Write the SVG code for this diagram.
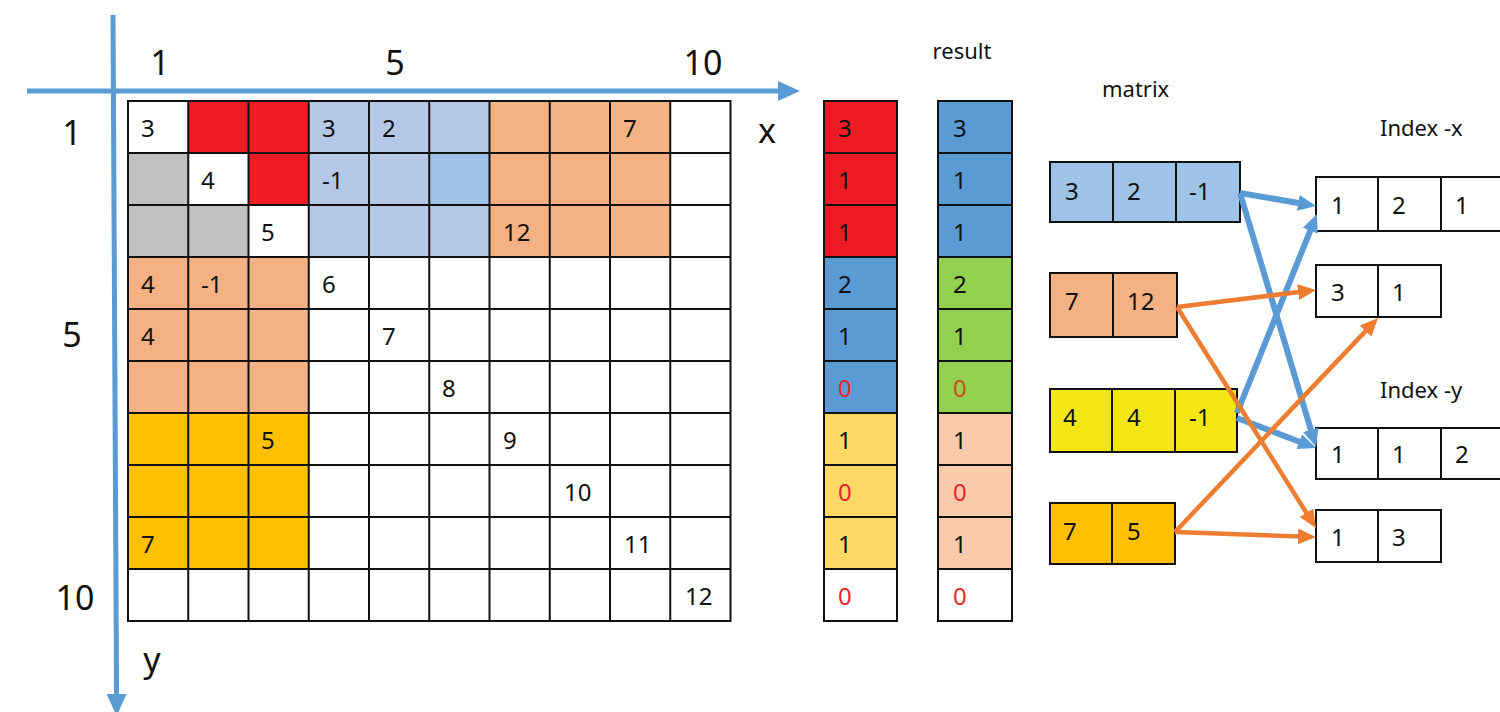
<svg xmlns="http://www.w3.org/2000/svg" width="1500" height="712" viewBox="0 0 1500 712">
<defs>
<style>
text{font-family:"Noto Sans","Open Sans","DejaVu Sans",sans-serif;fill:#111}
.g{font-size:24px}
.ax{font-size:34px}
.lb{font-size:22px}
.z{fill:#E8262A}
.zo{fill:#C8501A}
.bx{stroke:#111;stroke-width:2;fill:none}
.grid line{stroke:#111;stroke-width:2}
.axis{stroke:#5B9BD5;stroke-width:5;fill:none}
.blue{stroke:#5B9BD5;stroke-width:6;fill:none}
.orange{stroke:#ED7D31;stroke-width:4.5;fill:none}
</style>
<marker id="ax" markerWidth="22" markerHeight="20" refX="7" refY="10" orient="auto" markerUnits="userSpaceOnUse"><path d="M0,0 L22,10 L0,20 z" fill="#5B9BD5"/></marker>
<marker id="ab" markerWidth="18" markerHeight="16" refX="3" refY="8" orient="auto" markerUnits="userSpaceOnUse"><path d="M0,0 L18,8 L0,16 z" fill="#5B9BD5"/></marker>
<marker id="ao" markerWidth="18" markerHeight="16" refX="3" refY="8" orient="auto" markerUnits="userSpaceOnUse"><path d="M0,0 L18,8 L0,16 z" fill="#ED7D31"/></marker>
</defs>
<rect width="1500" height="712" fill="#fff"/>

<g id="axes">
<line class="axis" x1="27" y1="91" x2="785" y2="91" marker-end="url(#ax)"/>
<line class="axis" x1="113" y1="15" x2="116.6" y2="701" marker-end="url(#ax)"/>
<text class="ax" x="160" y="75" text-anchor="middle">1</text>
<text class="ax" x="395" y="75" text-anchor="middle">5</text>
<text class="ax" x="703" y="75" text-anchor="middle">10</text>
<text class="ax" x="72" y="145" text-anchor="middle">1</text>
<text class="ax" x="72" y="347" text-anchor="middle">5</text>
<text class="ax" x="75" y="610" text-anchor="middle">10</text>
<text class="ax" x="767" y="143" text-anchor="middle">x</text>
<text class="ax" x="152" y="672" text-anchor="middle">y</text>
</g>

<g id="grid">
<g class="cells">
<rect x="188.25" y="101" width="120.5" height="52" fill="#ED1C24"/>
<rect x="248.5" y="153" width="60.25" height="52" fill="#ED1C24"/>
<rect x="128" y="153" width="60.25" height="104" fill="#C0C0C0"/>
<rect x="188.25" y="205" width="60.25" height="52" fill="#C0C0C0"/>
<rect x="308.75" y="101" width="180.75" height="156" fill="#B4C7E7"/>
<rect x="429.25" y="153" width="60.25" height="52" fill="#9DC3E6"/>
<rect x="489.5" y="101" width="180.75" height="156" fill="#F4B183"/>
<rect x="128" y="257" width="180.75" height="156" fill="#F4B183"/>
<rect x="128" y="413" width="180.75" height="156" fill="#FFC000"/>
</g>
<g class="grid">
<line x1="188.25" y1="101" x2="188.25" y2="621"/>
<line x1="248.5" y1="101" x2="248.5" y2="621"/>
<line x1="308.75" y1="101" x2="308.75" y2="621"/>
<line x1="369" y1="101" x2="369" y2="621"/>
<line x1="429.25" y1="101" x2="429.25" y2="621"/>
<line x1="489.5" y1="101" x2="489.5" y2="621"/>
<line x1="549.75" y1="101" x2="549.75" y2="621"/>
<line x1="610" y1="101" x2="610" y2="621"/>
<line x1="670.25" y1="101" x2="670.25" y2="621"/>
<line x1="128" y1="153" x2="730.5" y2="153"/>
<line x1="128" y1="205" x2="730.5" y2="205"/>
<line x1="128" y1="257" x2="730.5" y2="257"/>
<line x1="128" y1="309" x2="730.5" y2="309"/>
<line x1="128" y1="361" x2="730.5" y2="361"/>
<line x1="128" y1="413" x2="730.5" y2="413"/>
<line x1="128" y1="465" x2="730.5" y2="465"/>
<line x1="128" y1="517" x2="730.5" y2="517"/>
<line x1="128" y1="569" x2="730.5" y2="569"/>
</g>
<rect class="bx" x="128" y="101" width="602.5" height="520"/>
<g class="g">
<text x="141" y="137">3</text>
<text x="322" y="137">3</text>
<text x="382" y="137">2</text>
<text x="623" y="137">7</text>
<text x="201" y="189">4</text>
<text x="322" y="189">-1</text>
<text x="261" y="241">5</text>
<text x="503" y="241">12</text>
<text x="141" y="293">4</text>
<text x="201" y="293">-1</text>
<text x="322" y="293">6</text>
<text x="141" y="345">4</text>
<text x="382" y="345">7</text>
<text x="442" y="397">8</text>
<text x="261" y="449">5</text>
<text x="503" y="449">9</text>
<text x="564" y="501">10</text>
<text x="141" y="553">7</text>
<text x="624" y="553">11</text>
<text x="685" y="605">12</text>
</g>
</g>

<g id="result-col-1">
<rect x="824" y="101" width="73" height="156" fill="#ED1C24"/>
<rect x="824" y="257" width="73" height="156" fill="#5B9BD5"/>
<rect x="824" y="413" width="73" height="156" fill="#FFD966"/>
<g class="grid">
<line x1="824" y1="153" x2="897" y2="153"/><line x1="824" y1="205" x2="897" y2="205"/><line x1="824" y1="257" x2="897" y2="257"/>
<line x1="824" y1="309" x2="897" y2="309"/><line x1="824" y1="361" x2="897" y2="361"/><line x1="824" y1="413" x2="897" y2="413"/>
<line x1="824" y1="465" x2="897" y2="465"/><line x1="824" y1="517" x2="897" y2="517"/><line x1="824" y1="569" x2="897" y2="569"/>
</g>
<rect class="bx" x="824" y="101" width="73" height="520"/>
<g class="g">
<text x="838" y="137">3</text><text x="838" y="189">1</text><text x="838" y="241">1</text>
<text x="838" y="293">2</text><text x="838" y="345">1</text><text class="z" x="838" y="397">0</text>
<text x="838" y="449">1</text><text class="z" x="838" y="501">0</text><text x="838" y="553">1</text>
<text class="z" x="838" y="605">0</text>
</g>
</g>

<g id="result-col-2">
<text class="lb" x="962" y="59" text-anchor="middle">result</text>
<rect x="938" y="101" width="74" height="156" fill="#5B9BD5"/>
<rect x="938" y="257" width="74" height="156" fill="#92D050"/>
<rect x="938" y="413" width="74" height="156" fill="#F8CBAD"/>
<g class="grid">
<line x1="938" y1="153" x2="1012" y2="153"/><line x1="938" y1="205" x2="1012" y2="205"/><line x1="938" y1="257" x2="1012" y2="257"/>
<line x1="938" y1="309" x2="1012" y2="309"/><line x1="938" y1="361" x2="1012" y2="361"/><line x1="938" y1="413" x2="1012" y2="413"/>
<line x1="938" y1="465" x2="1012" y2="465"/><line x1="938" y1="517" x2="1012" y2="517"/><line x1="938" y1="569" x2="1012" y2="569"/>
</g>
<rect class="bx" x="938" y="101" width="74" height="520"/>
<g class="g">
<text x="953" y="137">3</text><text x="953" y="189">1</text><text x="953" y="241">1</text>
<text x="953" y="293">2</text><text x="953" y="345">1</text><text class="zo" x="953" y="397">0</text>
<text x="953" y="449">1</text><text class="z" x="953" y="501">0</text><text x="953" y="553">1</text>
<text class="z" x="953" y="605">0</text>
</g>
</g>

<text class="lb" x="1102" y="97">matrix</text>
<text class="lb" x="1380" y="136">Index -x</text>
<text class="lb" x="1380" y="398">Index -y</text>

<g id="matrix-1">
<rect x="1050" y="162" width="190" height="60" fill="#9DC3E6" stroke="#111" stroke-width="2"/>
<line x1="1113" y1="162" x2="1113" y2="222" stroke="#111" stroke-width="2"/>
<line x1="1176" y1="162" x2="1176" y2="222" stroke="#111" stroke-width="2"/>
<g class="g"><text x="1065" y="200">3</text><text x="1127" y="200">2</text><text x="1189" y="200">-1</text></g>
</g>
<g id="matrix-2">
<rect x="1050" y="273" width="127" height="64" fill="#F4B183" stroke="#111" stroke-width="2"/>
<line x1="1113" y1="273" x2="1113" y2="337" stroke="#111" stroke-width="2"/>
<g class="g"><text x="1065" y="310">7</text><text x="1127" y="310">12</text></g>
</g>
<g id="matrix-3">
<rect x="1050" y="389" width="187" height="63" fill="#F2E614" stroke="#111" stroke-width="2"/>
<line x1="1112" y1="389" x2="1112" y2="452" stroke="#111" stroke-width="2"/>
<line x1="1175" y1="389" x2="1175" y2="452" stroke="#111" stroke-width="2"/>
<g class="g"><text x="1063" y="426">4</text><text x="1127" y="426">4</text><text x="1189" y="426">-1</text></g>
</g>
<g id="matrix-4">
<rect x="1050" y="503" width="125" height="61" fill="#FFC000" stroke="#111" stroke-width="2"/>
<line x1="1112" y1="503" x2="1112" y2="564" stroke="#111" stroke-width="2"/>
<g class="g"><text x="1063" y="540">7</text><text x="1127" y="540">5</text></g>
</g>

<g id="index-x-1">
<rect x="1316" y="177" width="190" height="54" fill="#fff" stroke="#111" stroke-width="2"/>
<line x1="1378" y1="177" x2="1378" y2="231" stroke="#111" stroke-width="2"/>
<line x1="1441" y1="177" x2="1441" y2="231" stroke="#111" stroke-width="2"/>
<g class="g"><text x="1331" y="214">1</text><text x="1392" y="214">2</text><text x="1455" y="214">1</text></g>
</g>
<g id="index-x-2">
<rect x="1316" y="265" width="125" height="52" fill="#fff" stroke="#111" stroke-width="2"/>
<line x1="1378" y1="265" x2="1378" y2="317" stroke="#111" stroke-width="2"/>
<g class="g"><text x="1331" y="301">3</text><text x="1392" y="301">1</text></g>
</g>
<g id="index-y-1">
<rect x="1316" y="428" width="190" height="51" fill="#fff" stroke="#111" stroke-width="2"/>
<line x1="1378" y1="428" x2="1378" y2="479" stroke="#111" stroke-width="2"/>
<line x1="1441" y1="428" x2="1441" y2="479" stroke="#111" stroke-width="2"/>
<g class="g"><text x="1331" y="463">1</text><text x="1392" y="463">1</text><text x="1455" y="463">2</text></g>
</g>
<g id="index-y-2">
<rect x="1316" y="510" width="125" height="52" fill="#fff" stroke="#111" stroke-width="2"/>
<line x1="1378" y1="510" x2="1378" y2="562" stroke="#111" stroke-width="2"/>
<g class="g"><text x="1331" y="546">1</text><text x="1392" y="546">3</text></g>
</g>

<g id="connectors">
<line class="blue" x1="1240" y1="193" x2="1301.2" y2="203.5" marker-end="url(#ab)"/>
<line class="blue" x1="1240" y1="193" x2="1311.7" y2="432.6" marker-end="url(#ab)"/>
<line class="blue" x1="1237" y1="413" x2="1311.4" y2="227.9" marker-end="url(#ab)"/>
<line class="blue" x1="1237" y1="418" x2="1302" y2="442.7" marker-end="url(#ab)"/>
<line class="orange" x1="1177" y1="307" x2="1301.1" y2="291.8" marker-end="url(#ao)"/>
<line class="orange" x1="1177" y1="307" x2="1308" y2="515.3" marker-end="url(#ao)"/>
<line class="orange" x1="1175" y1="532" x2="1367.7" y2="328.9" marker-end="url(#ao)"/>
<line class="orange" x1="1175" y1="532" x2="1301" y2="536.5" marker-end="url(#ao)"/>
</g>
</svg>
